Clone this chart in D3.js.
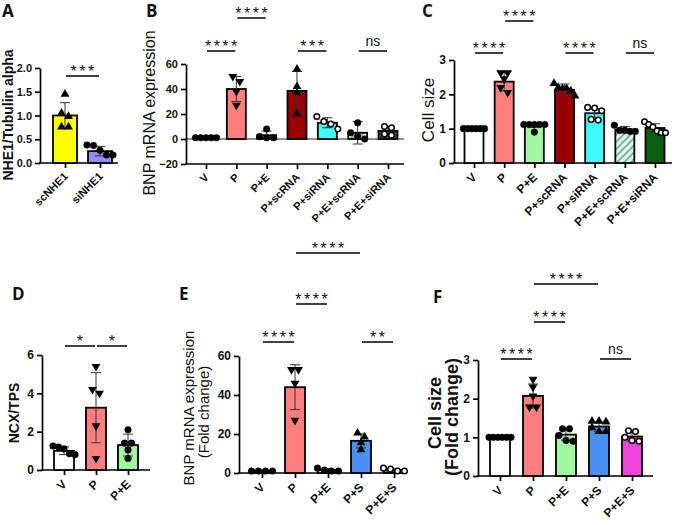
<!DOCTYPE html>
<html><head><meta charset="utf-8">
<script src="https://cdn.jsdelivr.net/npm/d3@7"></script>
<style>body{margin:0;background:#fff;} svg{display:block;font-family:"Liberation Sans",Arial,sans-serif;}</style>
</head><body><svg width="676" height="525"></svg>
<script>
// ---------- Panel A ----------
const aCats = ["scNHE1","siNHE1"];
const aMeans = [1.0, 0.25];
const aSD = [0.27, 0.1];
const aPoints = [[1.45,1.05,0.98,0.76,0.76],[0.38,0.37,0.27,0.17,0.17]];
const aShapes = ["tri","dot"];
const aColors = ["#ffff00","#8f8ff5"];
const aTicks = [0,0.5,1.0,1.5,2.0];
const aSig = [[0,1,"***",0]];
// ---------- Panel B ----------
const bCats = ["V","P","P+E","P+scRNA","P+siRNA","P+E+scRNA","P+E+siRNA"];
const bMeans = [1, 40, 3, 38.5, 13, 5, 6.5];
const bSD = [0, 10, 3.3, 15.5, 4, 9, 3.5];
const bPoints = [[1,1,1,1,1],[50,46,38,27],[8,2,1,1],[56,42,37,20],[18,14,12,8],[13,5,2,0],[10,9,4,3]];
const bShapes = ["dot","tridown","dot","tri","open","dot","open"];
const bColors = ["#ffffff","#ff7f7f","#a0f7a0","#990000","#40fafa","url(#hatch)","#0a5e12"];
const bTicks = [-20,0,20,40,60];
const bSig = [[0,1,"****",0],[1,2,"****",1],[3,4,"***",0],[5,6,"ns",0]];
// ---------- Panel C ----------
const cCats = ["V","P","P+E","P+scRNA","P+siRNA","P+E+scRNA","P+E+siRNA"];
const cMeans = [1.0, 2.37, 1.1, 2.13, 1.45, 0.97, 1.02];
const cSD = [0, 0.27, 0.06, 0.17, 0.13, 0.09, 0.12];
const cPoints = [[1,1,1,1,1,1],[2.63,2.63,2.45,2.2,2.05],[1.12,1.12,1.12,1.12,1.12,0.9],
  [2.32,2.2,2.17,2.17,2.1,1.95],[1.62,1.6,1.52,1.27,1.25],[1.1,0.95,0.95,0.92,0.92],[1.2,1.12,1.05,0.93,0.88,0.88]];
const cShapes = ["dot","tridown","dot","tri","open","dot","open"];
const cColors = bColors;
const cTicks = [0,1,2,3];
const cSig = [[0,1,"****",0],[1,2,"****",1],[3,4,"****",0],[5,6,"ns",0]];
// ---------- Panel D ----------
const dCats = ["V","P","P+E"];
const dMeans = [1.0, 3.25, 1.3];
const dSD = [0.2, 1.83, 0.57];
const dPoints = [[1.25,1.2,1.1,0.85,0.8],[5.4,4.2,4.0,2.3,0.6],[2.1,1.4,1.4,1.05,0.6]];
const dShapes = ["dot","tridown","dot"];
const dColors = ["#ffffff","#ff7f7f","#a0f7a0"];
const dTicks = [0,2,4,6];
const dSig = [[0,1,"*",0],[1,2,"*",0]];
// ---------- Panel E ----------
const eCats = ["V","P","P+E","P+S","P+E+S"];
const eMeans = [1, 44, 1.5, 16.5, 1.5];
const eSD = [0, 11.5, 0.7, 3.6, 0.6];
const ePoints = [[1,1,1,1],[53,53,46,27],[2.5,1.5,1,1],[20.5,18.5,15.5,12],[2.5,2,1,1]];
const eShapes = ["dot","tridown","dot","tri","open"];
const eColors = ["#ffffff","#ff7f7f","#a0f7a0","#4a90f0","#ee44dd"];
const eTicks = [0,20,40,60];
const eSig = [[0,1,"****",0],[1,2,"****",1],[1,3,"****",2],[3,4,"**",0]];
// ---------- Panel F ----------
const fCats = ["V","P","P+E","P+S","P+E+S"];
const fMeans = [1.0, 2.07, 1.07, 1.28, 1.02];
const fSD = [0, 0.31, 0.14, 0.12, 0.12];
const fPoints = [[1,1,1,1,1,1],[2.5,2.3,2.07,1.78,1.78],[1.22,1.22,1.05,0.92,0.9],[1.42,1.42,1.4,1.25,1.15,1.15],[1.17,1.15,1.0,0.92,0.9]];
const fShapes = ["dot","tridown","dot","tri","open"];
const fColors = eColors;
const fTicks = [0,1,2,3];
const fSig = [[0,1,"****",0],[1,2,"****",1],[1,3,"****",2],[3,4,"ns",0]];

const svg = d3.select("svg");
const defs = svg.append("defs");
const pat = defs.append("pattern").attr("id","hatch").attr("patternUnits","userSpaceOnUse")
  .attr("width",5).attr("height",5).attr("patternTransform","rotate(45)");
pat.append("rect").attr("width",5).attr("height",5).attr("fill","#e4f3ec");
pat.append("line").attr("x1",1).attr("y1",0).attr("x2",1).attr("y2",5).attr("stroke","#78b6a4").attr("stroke-width",2);

function drawPanel(cfg){
  const g = svg.append("g");
  const x = d3.scalePoint().domain(cfg.cats).range(cfg.centers);
  const y = d3.scaleLinear().domain(cfg.yDom).range(cfg.yRange);
  const yBot = y(cfg.yDom[0]);
  const bw = cfg.barW;
  // y axis
  const ya = g.append("g").attr("transform",`translate(${cfg.xAxis[0]},0)`)
    .call(d3.axisLeft(y).tickValues(cfg.ticks).tickFormat(cfg.fmt).tickSize(5).tickSizeOuter(0).tickPadding(3));
  ya.select(".domain").attr("stroke","#000").attr("stroke-width",1.7);
  ya.selectAll(".tick line").attr("stroke","#000").attr("stroke-width",1.7);
  ya.selectAll(".tick text").attr("font-size",cfg.tickFs).attr("font-weight","bold").attr("fill","#111")
    .attr("font-family","'Liberation Sans',Arial,sans-serif");
  // x axis
  const xa = g.append("g").attr("transform",`translate(0,${yBot})`)
    .call(d3.axisBottom(x).tickSize(5).tickSizeOuter(0).tickPadding(3));
  xa.select(".domain").remove();
  xa.selectAll(".tick line").attr("stroke","#000").attr("stroke-width",1.7);
  xa.selectAll(".tick text").attr("font-size",cfg.tickFs).attr("font-weight","bold").attr("fill","#111")
    .attr("font-family","'Liberation Sans',Arial,sans-serif")
    .attr("text-anchor","end").attr("dy",null).attr("y",0).attr("x",0)
    .attr("transform",`translate(3,${cfg.labOff}) rotate(-45)`);
  g.append("line").attr("x1",cfg.xAxis[0]-0.85).attr("x2",cfg.xAxis[1]).attr("y1",yBot).attr("y2",yBot)
    .attr("stroke","#000").attr("stroke-width",1.7);
  if (cfg.zeroLine) {
    g.append("line").attr("x1",cfg.xAxis[0]).attr("x2",cfg.xAxis[1]).attr("y1",y(0)).attr("y2",y(0))
      .attr("stroke","#222").attr("stroke-width",1.2);
  }
  // bars
  cfg.cats.forEach((c,i)=>{
    const m = cfg.means[i];
    const y0 = y(0), y1 = y(m);
    g.append("rect").attr("x",x(c)-bw/2).attr("y",Math.min(y0,y1)).attr("width",bw)
      .attr("height",Math.abs(y0-y1)).attr("fill",cfg.colors[i]).attr("stroke","#000").attr("stroke-width",1.8);
  });
  // error bars
  cfg.cats.forEach((c,i)=>{
    const m = cfg.means[i], s = cfg.sd[i];
    if (!s) return;
    const cx = x(c), cw = 5;
    const eg = g.append("g").attr("stroke","#333").attr("stroke-width",1);
    eg.append("line").attr("x1",cx).attr("x2",cx).attr("y1",y(m-s)).attr("y2",y(m+s));
    eg.append("line").attr("x1",cx-cw).attr("x2",cx+cw).attr("y1",y(m+s)).attr("y2",y(m+s));
    eg.append("line").attr("x1",cx-cw).attr("x2",cx+cw).attr("y1",y(m-s)).attr("y2",y(m-s));
  });
  // points
  cfg.cats.forEach((c,i)=>{
    const pts = cfg.points[i].map(v=>({v, py:y(v)})).sort((a,b)=>a.py-b.py);
    const clusters = [];
    pts.forEach(p=>{
      const last = clusters[clusters.length-1];
      if (last && p.py - last[last.length-1].py < 5.5) last.push(p); else clusters.push([p]);
    });
    const shape = cfg.shapes[i];
    clusters.forEach(cl=>{
      const k = cl.length;
      const sp = k>1 ? Math.min(7, (bw+2)/(k-1)) : 0;
      cl.forEach((p,j)=>{
        const px = x(c) + (j-(k-1)/2)*sp;
        if (shape==="dot" || shape==="open") {
          g.append("circle").attr("cx",px).attr("cy",p.py).attr("r",shape==="open"?2.8:3.3)
            .attr("fill",shape==="open"?"#fff":"#000").attr("stroke","#000").attr("stroke-width",shape==="open"?1.5:0.5);
        } else {
          g.append("path").attr("d",d3.symbol(d3.symbolTriangle,34)())
            .attr("transform",`translate(${px},${p.py})${shape==="tridown"?" rotate(180)":""}`)
            .attr("fill","#000");
        }
      });
    });
  });
  // significance
  cfg.sig.forEach(([i,j,lab,lev])=>{
    const ly = cfg.sigY[lev];
    const x1 = x(cfg.cats[i])+1, x2 = x(cfg.cats[j])-1;
    g.append("line").attr("x1",x1).attr("x2",x2).attr("y1",ly).attr("y2",ly).attr("stroke","#000").attr("stroke-width",1.5);
    const t = g.append("text").attr("x",(x1+x2)/2).attr("text-anchor","middle").attr("fill","#111").text(lab);
    if (lab==="ns") t.attr("y",ly-5).attr("font-size",14);
    else t.attr("y",ly+1).attr("font-size",16).attr("letter-spacing",2.5).attr("dx",1.2);
  });
  // y label
  cfg.ylab.forEach(l=>{
    g.append("text").attr("transform",`translate(${l.x},${l.y}) rotate(-90)`).attr("text-anchor","middle")
      .attr("font-size",l.fs).attr("font-weight",l.fw).attr("fill","#111").text(l.t);
  });
  // panel letter
  svg.append("text").attr("x",cfg.letter[1]).attr("y",cfg.letter[2]).attr("font-family","'Open Sans',sans-serif")
    .attr("font-weight","bold").attr("font-size",17).attr("fill","#111").text(cfg.letter[0]);
}

drawPanel({cats:aCats, means:aMeans, sd:aSD, points:aPoints, shapes:aShapes, colors:aColors, ticks:aTicks, sig:aSig,
  fmt:d3.format(".1f"), xAxis:[40,118], centers:[65,100], yDom:[0,2], yRange:[163,68], barW:24, tickFs:11, labOff:14,
  sigY:[76], ylab:[{t:"NHE1/Tubulin alpha", x:13, y:115, fs:14, fw:"bold"}], letter:["A",2,17]});
drawPanel({cats:bCats, means:bMeans, sd:bSD, points:bPoints, shapes:bShapes, colors:bColors, ticks:bTicks, sig:bSig,
  fmt:d3.format("d"), xAxis:[186,404], centers:[206,388], yDom:[-20,60], yRange:[164,64], barW:19, tickFs:11, labOff:14,
  zeroLine:true, sigY:[51,18], ylab:[{t:"BNP mRNA expression", x:155, y:113, fs:16, fw:"normal"}], letter:["B",146,17]});
drawPanel({cats:cCats, means:cMeans, sd:cSD, points:cPoints, shapes:cShapes, colors:cColors, ticks:cTicks, sig:cSig,
  fmt:d3.format("d"), xAxis:[454,672], centers:[474,655], yDom:[0,3], yRange:[163,60], barW:19, tickFs:12, labOff:15,
  sigY:[53,21], ylab:[{t:"Cell size", x:434, y:110, fs:17, fw:"normal"}], letter:["C",422,17]});
drawPanel({cats:dCats, means:dMeans, sd:dSD, points:dPoints, shapes:dShapes, colors:dColors, ticks:dTicks, sig:dSig,
  fmt:d3.format("d"), xAxis:[42,150], centers:[64,128], yDom:[0,6], yRange:[470,355], barW:20, tickFs:12, labOff:15,
  sigY:[346], ylab:[{t:"NCX/TPS", x:19, y:413, fs:14, fw:"bold"}], letter:["D",12,300]});
drawPanel({cats:eCats, means:eMeans, sd:eSD, points:ePoints, shapes:eShapes, colors:eColors, ticks:eTicks, sig:eSig,
  fmt:d3.format("d"), xAxis:[239,402], centers:[262,394], yDom:[0,60], yRange:[473,356], barW:20, tickFs:12, labOff:15,
  sigY:[342,304,253], ylab:[{t:"BNP mRNA expression", x:194, y:408, fs:15, fw:"normal"},{t:"(Fold change)", x:209, y:412, fs:15, fw:"normal"}], letter:["E",179,300]});
drawPanel({cats:fCats, means:fMeans, sd:fSD, points:fPoints, shapes:fShapes, colors:fColors, ticks:fTicks, sig:fSig,
  fmt:d3.format("d"), xAxis:[478,653], centers:[500,632], yDom:[0,3], yRange:[476,360], barW:20, tickFs:12, labOff:15,
  sigY:[359,322,284], ylab:[{t:"Cell size", x:441, y:413, fs:18, fw:"bold"},{t:"(Fold change)", x:458, y:417, fs:18, fw:"bold"}], letter:["F",433,303]});
</script></body></html>
